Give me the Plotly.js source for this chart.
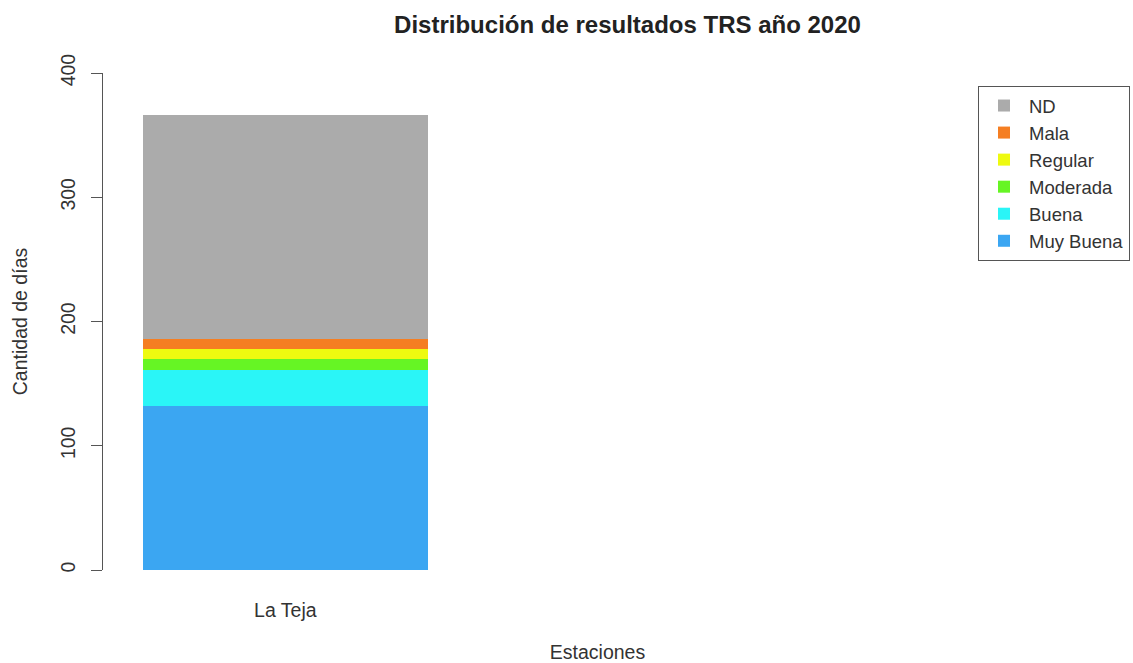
<!DOCTYPE html>
<html>
<head>
<meta charset="utf-8">
<script src="https://cdn.plot.ly/plotly-3.0.1.min.js"></script>
<style>html,body{margin:0;padding:0;background:#fff;}#chart{width:1133px;height:663px;}</style>
</head>
<body>
<div id="chart"></div>
<script>
// Data
const stations = ["La Teja"];
const categories = ["Muy Buena", "Buena", "Moderada", "Regular", "Mala", "ND"];
const muyBuena = [132];
const buena = [29];
const moderada = [9];
const regular = [8];
const mala = [8];
const nd = [180];
const seriesValues = [muyBuena, buena, moderada, regular, mala, nd];
const colors = ["#3BA6F2", "#2AF5F7", "#66F524", "#EEFA10", "#F57E22", "#ABABAB"];
const yTicks = [0, 100, 200, 300, 400];

const FONT = "Liberation Sans, Arial, Helvetica, sans-serif";

const traces = categories.map((name, i) => ({
  type: "bar",
  name: name,
  x: stations,
  y: seriesValues[i],
  width: 1,
  marker: {color: colors[i], line: {width: 0}},
  hoverinfo: "name+y"
}));

const W = 1133, H = 663;
const plotL = 103, plotR = 1092, plotT = 73, plotB = 570;

const layout = {
  width: W,
  height: H,
  paper_bgcolor: "#ffffff",
  plot_bgcolor: "#ffffff",
  barmode: "stack",
  font: {family: FONT, size: 19.5, color: "#333"},
  margin: {l: plotL, r: W - plotR, t: plotT, b: H - plotB, pad: 0, autoexpand: false},
  title: {
    text: "Distribución de resultados TRS año 2020",
    font: {family: FONT, size: 24, weight: "bold", color: "#222"},
    xref: "container", x: 627.5 / W, xanchor: "center",
    yref: "container", y: 1 - 25 / H, yanchor: "middle"
  },
  xaxis: {
    type: "category",
    range: [-0.639, 2.827],
    showline: false,
    showgrid: false,
    zeroline: false,
    ticks: "",
    ticklabelstandoff: 26,
    tickfont: {family: FONT, size: 19.5, color: "#333"},
    title: {text: "Estaciones", font: {family: FONT, size: 19.5, color: "#333"}, standoff: 31},
    automargin: false,
    fixedrange: true
  },
  yaxis: {
    range: [0, 400],
    tickvals: yTicks,
    ticktext: yTicks.map(String),
    tickangle: -90,
    ticks: "outside",
    ticklen: 11,
    tickwidth: 1,
    tickcolor: "#555",
    showline: true,
    linecolor: "#555",
    linewidth: 1,
    showgrid: false,
    zeroline: false,
    ticklabelstandoff: 8,
    tickfont: {family: FONT, size: 19.5, color: "#333"},
    title: {text: "Cantidad de días", font: {family: FONT, size: 19.5, color: "#333"}, standoff: 24},
    automargin: false,
    fixedrange: true
  },
  showlegend: true,
  legend: {
    xref: "paper", yref: "paper",
    x: (978 - plotL) / (plotR - plotL), xanchor: "left",
    y: (plotB - 86) / (plotB - plotT), yanchor: "top",
    traceorder: "reversed",
    bgcolor: "#ffffff",
    bordercolor: "#555",
    borderwidth: 1,
    itemwidth: 40,
    font: {family: FONT, size: 18.5, color: "#333"}
  }
};

Plotly.newPlot("chart", traces, layout, {displayModeBar: false, staticPlot: true});
</script>
</body>
</html>
